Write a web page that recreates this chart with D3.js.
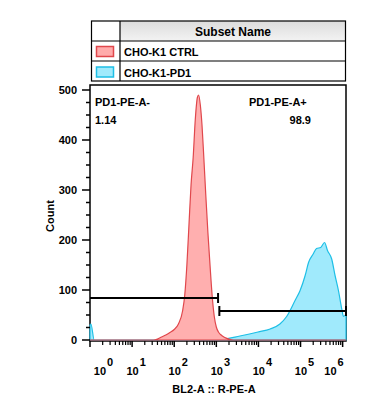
<!DOCTYPE html>
<html>
<head>
<meta charset="utf-8">
<script src="https://cdn.jsdelivr.net/npm/d3@7"></script>
<style>
  body { margin: 0; background: #fff; }
  text { font-family: "Liberation Sans", Arial, sans-serif; font-weight: bold; font-size: 11px; fill: #000; }
</style>
</head>
<body>
<svg id="chart"></svg>
<script>
const WIDTH = 367;
const HEIGHT = 413;
const PLOT = { left: 90, right: 346, top: 85, bottom: 340 };

const subsetNames = ["CHO-K1 CTRL", "CHO-K1-PD1"];

// CTRL histogram: intensity (BL2-A) and counts
const ctrlX = [1, 32, 40, 50, 63, 79, 100, 126, 158, 178, 200, 224, 251, 282, 316, 355, 380, 417, 457, 501, 562, 631, 708, 794, 891, 1000, 1122, 1259, 1585, 1995, 2512, 1202000];
const ctrlCount = [0, 0, 2, 6, 10, 15, 21, 32, 58, 90, 150, 230, 310, 365, 440, 485, 490, 470, 430, 370, 290, 215, 150, 90, 48, 26, 16, 11, 5, 2, 0, 0];

// PD1 histogram
const pd1X = [1, 1.05, 1.26, 1000, 1380, 3630, 9770, 19050, 32360, 46770, 74130, 97720, 128800, 154900, 199500, 239900, 302000, 371500, 436500, 549500, 660700, 794300, 955000, 1047000, 1202000];
const pd1Count = [30, 32, 0, 0, 1, 8, 16, 22, 32, 47, 79, 99, 129, 155, 172, 183, 185, 195, 179, 162, 129, 99, 62, 47, 52];

const xExponents = [0, 1, 2, 3, 4, 5, 6];
const yTicks = [0, 100, 200, 300, 400, 500];

const gateNames = ["PD1-PE-A-", "PD1-PE-A+"];
const gateValues = ["1.14", "98.9"];
const gateFrom = [1, 1180];
const gateTo = [1100, 1202000];
const gateLevel = [84, 58];

const svg = d3.select("#chart").attr("width", WIDTH).attr("height", HEIGHT);

const x = d3.scaleLog().domain([1, 1202000]).range([PLOT.left, PLOT.right]);
const y = d3.scaleLinear().domain([0, 510]).range([PLOT.bottom, PLOT.top]);

// legend table
const grad = svg.append("defs").append("linearGradient")
  .attr("id", "hdr").attr("x1", 0).attr("y1", 0).attr("x2", 0).attr("y2", 1);
grad.append("stop").attr("offset", "0%").attr("stop-color", "#dcdcdc");
grad.append("stop").attr("offset", "100%").attr("stop-color", "#f3f3f3");

const lg = svg.append("g");
lg.append("rect").attr("x", 120).attr("y", 21).attr("width", 225.5).attr("height", 20).attr("fill", "url(#hdr)");
lg.append("rect").attr("x", 91.5).attr("y", 21).attr("width", 254).attr("height", 60)
  .attr("fill", "none").attr("stroke", "#000").attr("stroke-width", 1.2);
lg.append("line").attr("x1", 120).attr("x2", 120).attr("y1", 21).attr("y2", 81).attr("stroke", "#000").attr("stroke-width", 1.2);
[41, 61].forEach(yy => lg.append("line").attr("x1", 91.5).attr("x2", 345.5).attr("y1", yy).attr("y2", yy).attr("stroke", "#000").attr("stroke-width", 1.2));
lg.append("text").attr("x", 233).attr("y", 36).attr("text-anchor", "middle").style("font-size", "12px").text("Subset Name");

const swatch = [{ fill: "#ffabab", stroke: "#e0474c" }, { fill: "#a0eafc", stroke: "#1ebfe6" }];
subsetNames.forEach((name, i) => {
  lg.append("rect").attr("x", 96.5).attr("y", 46.5 + i * 20.5).attr("width", 17).attr("height", 10)
    .attr("fill", swatch[i].fill).attr("stroke", swatch[i].stroke).attr("stroke-width", 1.5);
  lg.append("text").attr("x", 124).attr("y", 56 + i * 20.5).text(name);
});

// plot frame
svg.append("rect").attr("x", PLOT.left).attr("y", PLOT.top)
  .attr("width", PLOT.right - PLOT.left).attr("height", PLOT.bottom + 1 - PLOT.top)
  .attr("fill", "none").attr("stroke", "#000").attr("stroke-width", 1.5);

// histograms
const area = d3.area()
  .x(d => x(d[0]))
  .y0(y(0))
  .y1(d => y(d[1]))
  .curve(d3.curveMonotoneX);

svg.append("path")
  .datum(d3.zip(pd1X, pd1Count))
  .attr("d", area)
  .attr("fill", "#a0eafc")
  .attr("stroke", "#1ebfe6")
  .attr("stroke-width", 1.2);

svg.append("path")
  .datum(d3.zip(ctrlX, ctrlCount))
  .attr("d", area)
  .attr("fill", "#ffabab")
  .attr("fill-opacity", 0.95)
  .attr("stroke", "#e0474c")
  .attr("stroke-width", 1.2);

// y axis ticks
const yMinor = d3.range(0, 510, 25).filter(v => v % 100 !== 0);
svg.append("g").selectAll("line").data(yMinor).enter().append("line")
  .attr("x1", PLOT.left - 4).attr("x2", PLOT.left).attr("y1", d => y(d)).attr("y2", d => y(d))
  .attr("stroke", "#000").attr("stroke-width", 1.5);
svg.append("g").selectAll("line").data(yTicks).enter().append("line")
  .attr("x1", PLOT.left - 8).attr("x2", PLOT.left).attr("y1", d => y(d)).attr("y2", d => y(d))
  .attr("stroke", "#000").attr("stroke-width", 1.5);
svg.append("g").selectAll("text").data(yTicks).enter().append("text")
  .attr("x", 77).attr("y", d => y(d) + 4).attr("text-anchor", "end").text(d => d);

svg.append("text")
  .attr("transform", `translate(54, 216) rotate(-90)`)
  .attr("text-anchor", "middle")
  .text("Count");

// x axis ticks
const xMinor = [];
xExponents.forEach(e => d3.range(2, 10).forEach(m => {
  const v = m * Math.pow(10, e);
  if (v < x.domain()[1]) xMinor.push(v);
}));
svg.append("g").selectAll("line").data(xMinor).enter().append("line")
  .attr("x1", d => x(d)).attr("x2", d => x(d))
  .attr("y1", PLOT.bottom + 1).attr("y2", PLOT.bottom + 5)
  .attr("stroke", "#000").attr("stroke-width", 1.2);
svg.append("g").selectAll("line").data(xExponents).enter().append("line")
  .attr("x1", d => x(Math.pow(10, d))).attr("x2", d => x(Math.pow(10, d)))
  .attr("y1", PLOT.bottom + 1).attr("y2", PLOT.bottom + 7)
  .attr("stroke", "#000").attr("stroke-width", 1.5);

const xl = svg.append("g").selectAll("text").data(xExponents).enter().append("text")
  .attr("x", d => Math.max(103.5, Math.min(334, x(Math.pow(10, d)) + 4)))
  .attr("y", 375)
  .attr("text-anchor", "middle");
xl.append("tspan").text("10");
xl.append("tspan").attr("dy", -9).attr("dx", 1).text(d => d);

svg.append("text")
  .attr("x", 214).attr("y", 393)
  .attr("text-anchor", "middle")
  .text("BL2-A :: R-PE-A");

// gates
gateNames.forEach((name, i) => {
  const g = svg.append("g").attr("stroke", "#000").attr("stroke-width", 2);
  const gy = y(gateLevel[i]);
  g.append("line").attr("x1", x(gateFrom[i])).attr("x2", x(gateTo[i])).attr("y1", gy).attr("y2", gy);
  [gateFrom[i], gateTo[i]].forEach((v, k) => {
    if (i === 0 && k === 0) return;
    g.append("line").attr("x1", x(v)).attr("x2", x(v)).attr("y1", gy - 5).attr("y2", gy + 5);
  });
});

svg.append("text").attr("x", 95).attr("y", 105.5).text(gateNames[0]);
svg.append("text").attr("x", 95).attr("y", 124).text(gateValues[0]);
svg.append("text").attr("x", 249).attr("y", 105.5).text(gateNames[1]);
svg.append("text").attr("x", 311).attr("y", 124).attr("text-anchor", "end").text(gateValues[1]);
</script>
</body>
</html>
